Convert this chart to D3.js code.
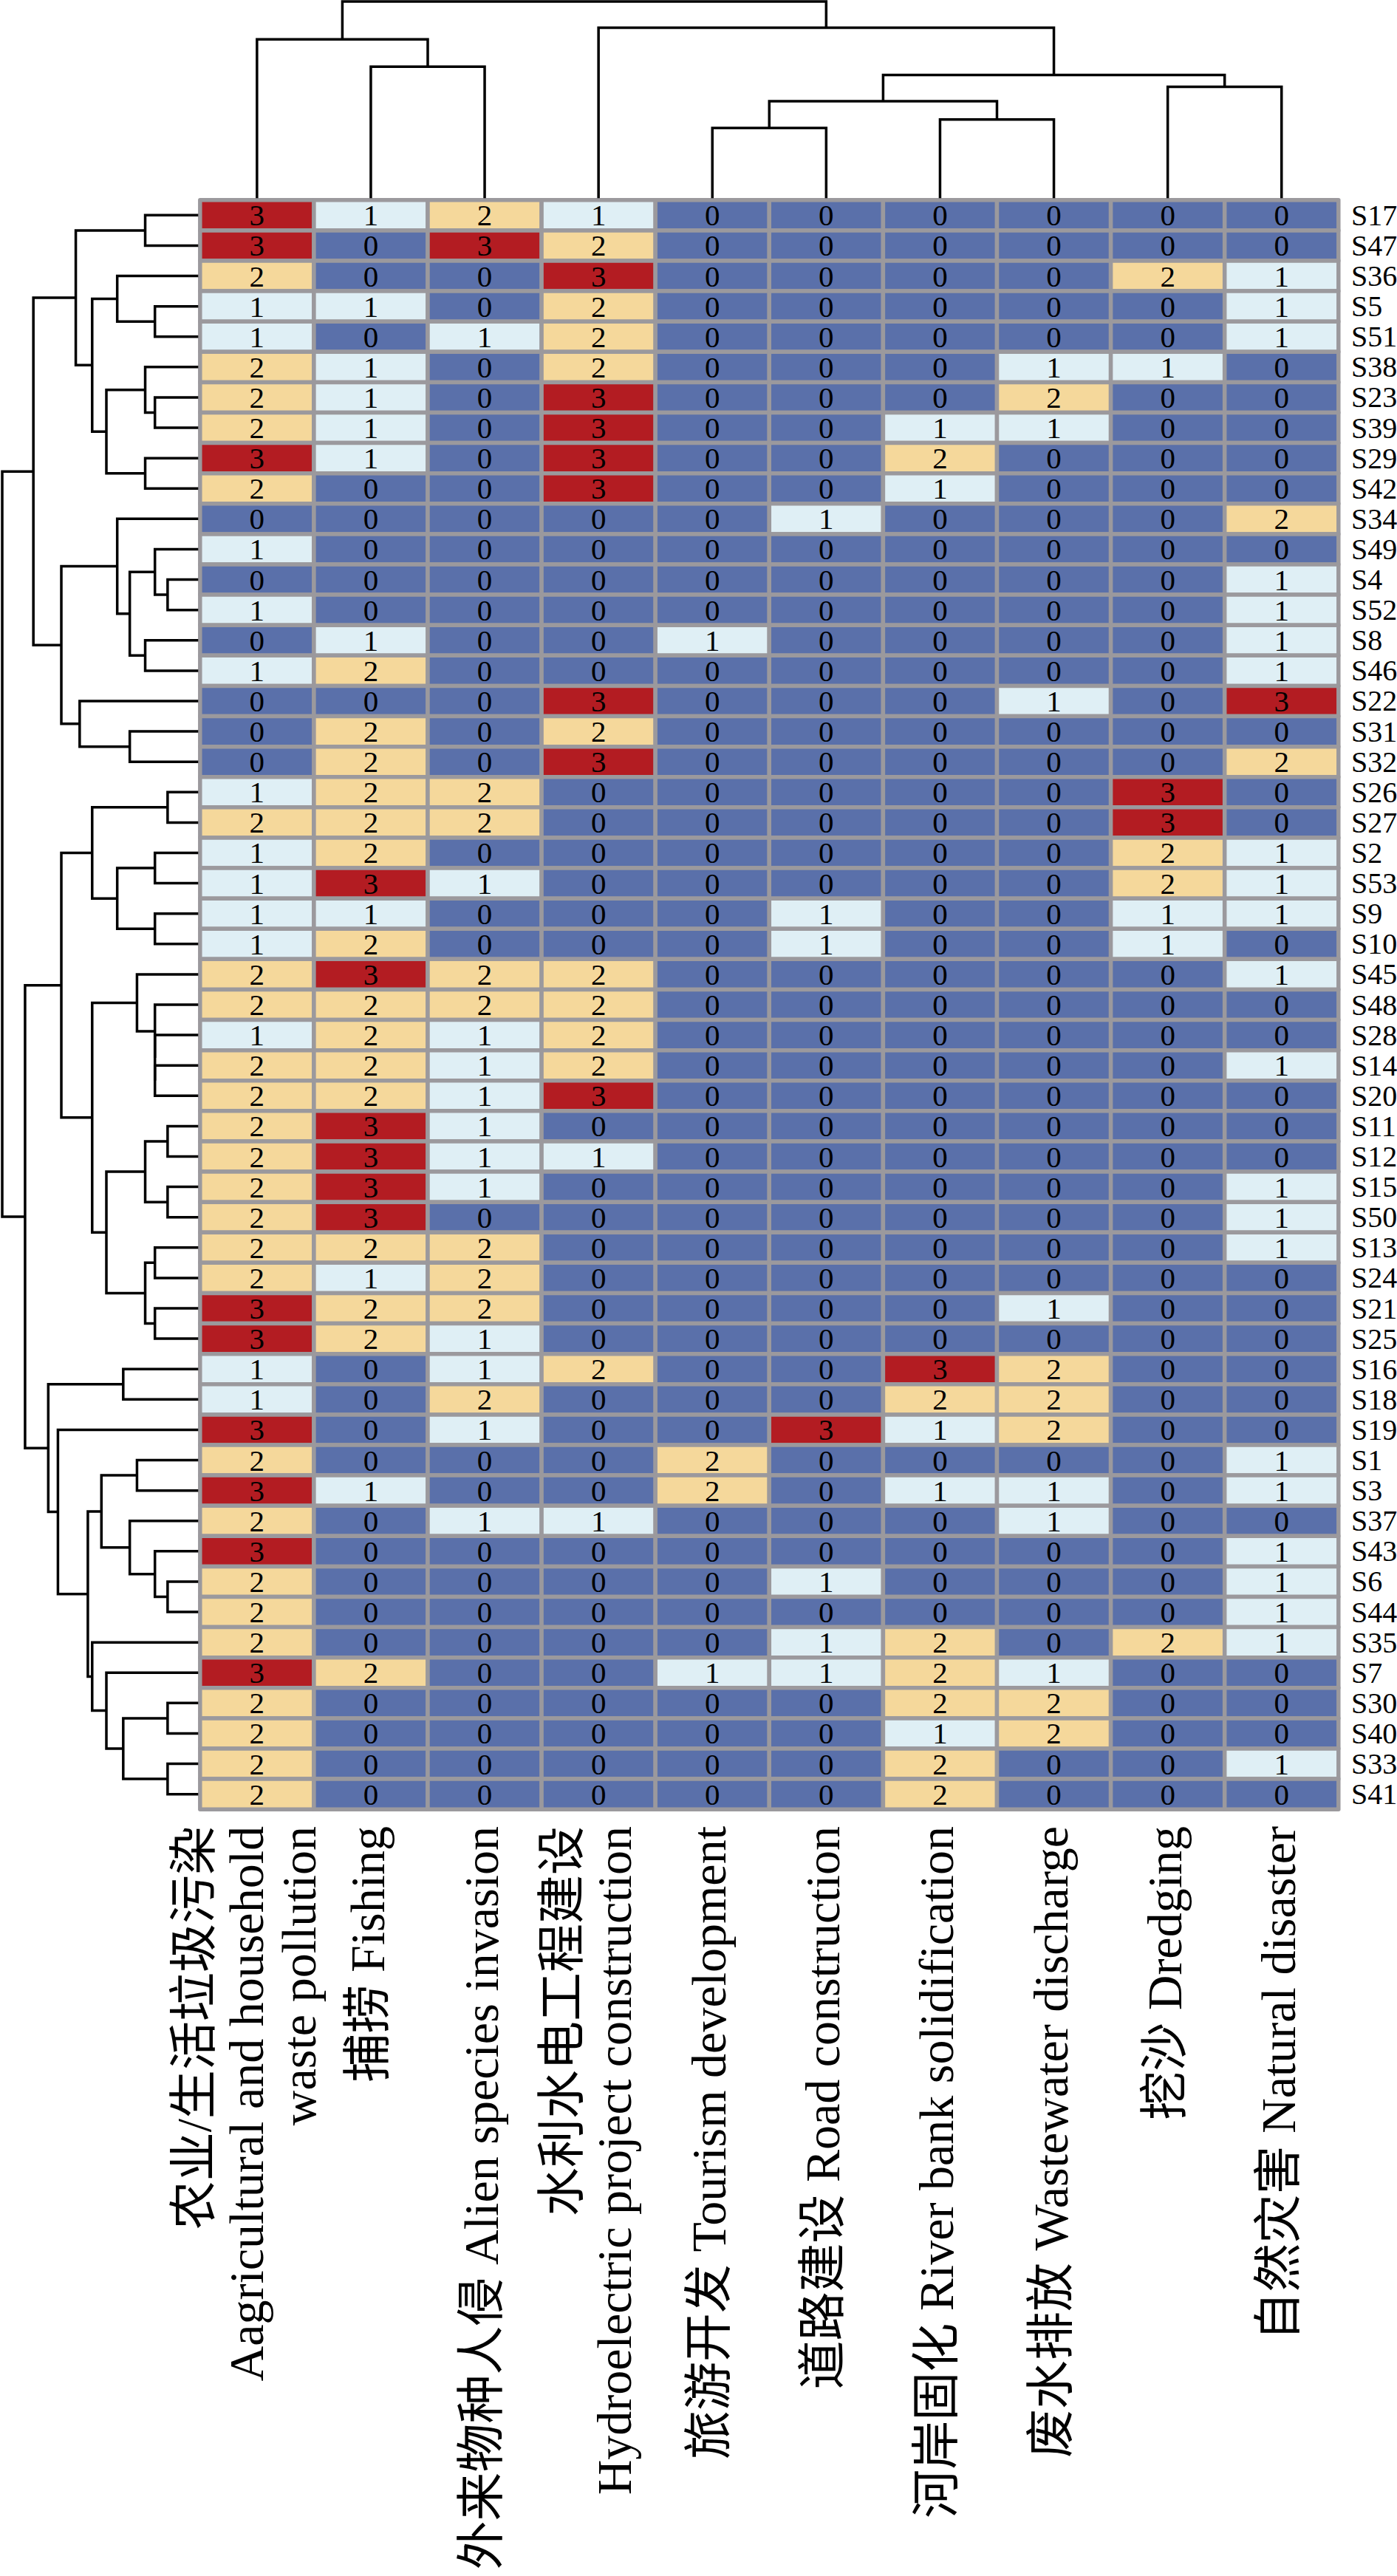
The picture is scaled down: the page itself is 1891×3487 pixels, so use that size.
<!DOCTYPE html>
<html>
<head>
<meta charset="utf-8">
<script src="https://cdn.jsdelivr.net/npm/d3@7/dist/d3.min.js"></script>
<style>
  html, body { margin: 0; padding: 0; background: #ffffff; }
  svg { display: block; }
</style>
</head>
<body>
<svg id="chart" width="1891" height="3487"></svg>
<script>
// ---------------- DATA ----------------
const rowLabels = ["S17","S47","S36","S5","S51","S38","S23","S39","S29","S42",
  "S34","S49","S4","S52","S8","S46","S22","S31","S32","S26","S27","S2","S53",
  "S9","S10","S45","S48","S28","S14","S20","S11","S12","S15","S50","S13","S24",
  "S21","S25","S16","S18","S19","S1","S3","S37","S43","S6","S44","S35","S7",
  "S30","S40","S33","S41"];

const columnKeys = ["agricultural","fishing","alien","hydro","tourism","road",
  "riverbank","wastewater","dredging","disaster"];

const columnLabels = [
  ["农业/生活垃圾污染", "Aagricultural and household", "waste pollution"],
  ["捕捞 Fishing"],
  ["外来物种人侵 Alien species invasion"],
  ["水利水电工程建设", "Hydroelectric project construction"],
  ["旅游开发 Tourism development"],
  ["道路建设 Road construction"],
  ["河岸固化 River bank solidification"],
  ["废水排放 Wastewater discharge"],
  ["挖沙 Dredging"],
  ["自然灾害 Natural disaster"]
];

// values per column, in the row order above
const agricultural = [3,3,2,1,1,2,2,2,3,2, 0,1,0,1,0,1,0,0,0,1,2,1,1,1,1,2,2,1,2,2,2,2,2,2,2,2,3,3,1,1,3,2,3,2,3,2,2,2,3,2,2,2,2];
const fishing      = [1,0,0,1,0,1,1,1,1,0, 0,0,0,0,1,2,0,2,2,2,2,2,3,1,2,3,2,2,2,2,3,3,3,3,2,1,2,2,0,0,0,0,1,0,0,0,0,0,2,0,0,0,0];
const alien        = [2,3,0,0,1,0,0,0,0,0, 0,0,0,0,0,0,0,0,0,2,2,0,1,0,0,2,2,1,1,1,1,1,1,0,2,2,2,1,1,2,1,0,0,1,0,0,0,0,0,0,0,0,0];
const hydro        = [1,2,3,2,2,2,3,3,3,3, 0,0,0,0,0,0,3,2,3,0,0,0,0,0,0,2,2,2,2,3,0,1,0,0,0,0,0,0,2,0,0,0,0,1,0,0,0,0,0,0,0,0,0];
const tourism      = [0,0,0,0,0,0,0,0,0,0, 0,0,0,0,1,0,0,0,0,0,0,0,0,0,0,0,0,0,0,0,0,0,0,0,0,0,0,0,0,0,0,2,2,0,0,0,0,0,1,0,0,0,0];
const road         = [0,0,0,0,0,0,0,0,0,0, 1,0,0,0,0,0,0,0,0,0,0,0,0,1,1,0,0,0,0,0,0,0,0,0,0,0,0,0,0,0,3,0,0,0,0,1,0,1,1,0,0,0,0];
const riverbank    = [0,0,0,0,0,0,0,1,2,1, 0,0,0,0,0,0,0,0,0,0,0,0,0,0,0,0,0,0,0,0,0,0,0,0,0,0,0,0,3,2,1,0,1,0,0,0,0,2,2,2,1,2,2];
const wastewater   = [0,0,0,0,0,1,2,1,0,0, 0,0,0,0,0,0,1,0,0,0,0,0,0,0,0,0,0,0,0,0,0,0,0,0,0,0,1,0,2,2,2,0,1,1,0,0,0,0,1,2,2,0,0];
const dredging     = [0,0,2,0,0,1,0,0,0,0, 0,0,0,0,0,0,0,0,0,3,3,2,2,1,1,0,0,0,0,0,0,0,0,0,0,0,0,0,0,0,0,0,0,0,0,0,0,2,0,0,0,0,0];
const disaster     = [0,0,1,1,1,0,0,0,0,0, 2,0,1,1,1,1,3,0,2,0,0,1,1,1,0,1,0,0,1,0,0,0,1,1,1,0,0,0,0,0,0,1,1,0,1,1,1,1,0,0,0,1,0];

const valueLevels = [0, 1, 2, 3];
const levelColors = ["#5A70AA", "#DFEFF5", "#F5D89B", "#B31C22"];

// dendrogram topologies (heights computed by complete linkage, Euclidean)
const rowTree = [
  [
    [["S17","S47"], [["S36",["S5","S51"]], [["S38",["S23","S39"]], ["S29","S42"]]]],
    [["S34", [["S49",["S4","S52"]], ["S8","S46"]]], ["S22", ["S31","S32"]]]
  ],
  [
    [
      [["S26","S27"], [["S2","S53"], ["S9","S10"]]],
      [["S45", ["S48", ["S28", ["S14","S20"]]]],
       [[["S11","S12"], ["S15","S50"]], [["S13","S24"], ["S21","S25"]]]]
    ],
    [["S16","S18"], ["S19", [[["S1","S3"], ["S37", ["S43", ["S6","S44"]]]],
                             ["S35", ["S7", [["S30","S40"], ["S33","S41"]]]]]]]
  ]
];
const colTree = [["agricultural", ["fishing","alien"]],
  ["hydro", [[["tourism","road"], ["riverbank","wastewater"]], ["dredging","disaster"]]]];

// ---------------- BUILD ----------------
const columns = {agricultural, fishing, alien, hydro, tourism, road, riverbank, wastewater, dredging, disaster};
const matrix = rowLabels.map((r, i) => columnKeys.map(k => columns[k][i]));

const svg = d3.select("#chart");
svg.append("rect").attr("width", 1891).attr("height", 3487).attr("fill", "#fff");

const serif = "'Liberation Serif','Times New Roman','Noto Sans CJK SC',serif";

const x = d3.scaleBand().domain(d3.range(columnKeys.length)).range([270.8, 1811.8]);
const y = d3.scaleBand().domain(d3.range(rowLabels.length)).range([270.8, 2449.2]);
const color = d3.scaleOrdinal().domain(valueLevels).range(levelColors);

// cells
const cells = [];
matrix.forEach((row, i) => row.forEach((v, j) => cells.push({i, j, v})));

const gCells = svg.append("g");
gCells.selectAll("rect").data(cells).join("rect")
  .attr("x", d => x(d.j)).attr("y", d => y(d.i))
  .attr("width", x.bandwidth()).attr("height", y.bandwidth())
  .attr("fill", d => color(d.v))
  .attr("stroke", "#9B999D").attr("stroke-width", 5.5)
  .attr("stroke-linejoin", "round");

gCells.selectAll("text").data(cells).join("text")
  .attr("x", d => x(d.j) + x.bandwidth() / 2)
  .attr("y", d => y(d.i) + y.bandwidth() / 2)
  .attr("text-anchor", "middle").attr("dominant-baseline", "central")
  .attr("font-family", serif).attr("font-size", 41).attr("fill", "#000")
  .text(d => d.v);

// row labels
svg.append("g").selectAll("text").data(rowLabels).join("text")
  .attr("x", 1829)
  .attr("y", (d, i) => y(i) + y.bandwidth() / 2)
  .attr("dominant-baseline", "central")
  .attr("font-family", serif).attr("font-size", 40).attr("fill", "#000")
  .text(d => d);

// column labels (rotated)
const gCol = svg.append("g");
columnLabels.forEach((lines, j) => {
  const n = lines.length;
  const cx = x(j) + x.bandwidth() / 2;
  lines.forEach((line, k) => {
    const bx = cx + (k - (n - 1) / 2) * 71 + (n === 1 ? 18 : 8);
    gCol.append("text")
      .attr("transform", `translate(${bx},2472) rotate(-90)`)
      .attr("text-anchor", "end")
      .attr("font-family", serif).attr("font-size", 66).attr("fill", "#000")
      .text(line);
  });
});

// ---------------- DENDROGRAMS ----------------
function dist(a, b) { return Math.sqrt(d3.sum(a, (v, i) => (v - b[i]) ** 2)); }

function buildTree(node, posOf, vecOf) {
  if (typeof node === "string") {
    return {name: node, leaf: true, h: 0, pos: posOf(node), members: [node]};
  }
  const a = buildTree(node[0], posOf, vecOf);
  const b = buildTree(node[1], posOf, vecOf);
  let h = 0;
  a.members.forEach(m => b.members.forEach(n => { h = Math.max(h, dist(vecOf(m), vecOf(n))); }));
  return {children: [a, b], h, pos: (a.pos + b.pos) / 2, members: a.members.concat(b.members)};
}

function collect(node, out) {
  if (node.children) { out.push(node); node.children.forEach(c => collect(c, out)); }
  return out;
}

// row tree
const rowIndex = new Map(rowLabels.map((r, i) => [r, i]));
const rTree = buildTree(rowTree,
  name => y(rowIndex.get(name)) + y.bandwidth() / 2,
  name => matrix[rowIndex.get(name)]);
const hx = d3.scaleLinear().domain([0, rTree.h]).range([268.3, 3]);

const gRow = svg.append("g").attr("fill", "none").attr("stroke", "#000")
  .attr("stroke-width", 3.5).attr("stroke-linecap", "butt").attr("stroke-linejoin", "miter");
collect(rTree, []).forEach(nd => {
  const [a, b] = nd.children;
  const p = d3.path();
  p.moveTo(hx(a.h), a.pos); p.lineTo(hx(nd.h), a.pos);
  p.lineTo(hx(nd.h), b.pos); p.lineTo(hx(b.h), b.pos);
  gRow.append("path").attr("d", p.toString());
});

// column tree
const colIndex = new Map(columnKeys.map((k, j) => [k, j]));
const cTree = buildTree(colTree,
  name => x(colIndex.get(name)) + x.bandwidth() / 2,
  name => columns[name]);
const hy = d3.scaleLinear().domain([0, cTree.h]).range([268.3, 2]);

const gColTree = svg.append("g").attr("fill", "none").attr("stroke", "#000")
  .attr("stroke-width", 3.5).attr("stroke-linecap", "butt").attr("stroke-linejoin", "miter");
collect(cTree, []).forEach(nd => {
  const [a, b] = nd.children;
  const p = d3.path();
  p.moveTo(a.pos, hy(a.h)); p.lineTo(a.pos, hy(nd.h));
  p.lineTo(b.pos, hy(nd.h)); p.lineTo(b.pos, hy(b.h));
  gColTree.append("path").attr("d", p.toString());
});
</script>
</body>
</html>
